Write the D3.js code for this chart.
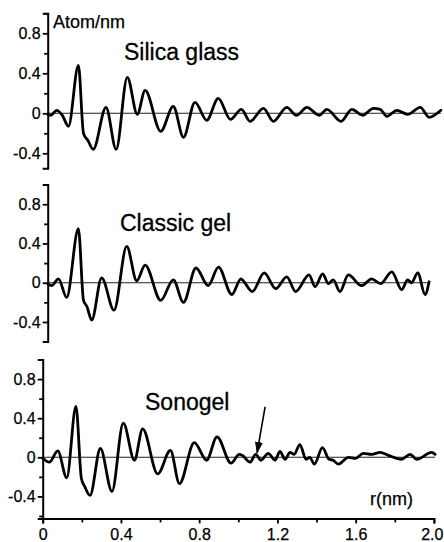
<!DOCTYPE html>
<html><head><meta charset="utf-8">
<script src="https://cdn.jsdelivr.net/npm/d3@7"></script>
<style>
body{margin:0;background:#fff}
svg{display:block}
text{font-family:"Liberation Sans",Arial,Helvetica,sans-serif;fill:#000}
</style>
</head><body>
<svg id="chart" width="444" height="542"></svg>
<script>
// ---------- data (r in nm, value in Atom/nm) ----------
const silicaGlass = [[0.0,-0.01],[0.015,-0.02],[0.046,0.03],[0.075,-0.02],[0.106,-0.13],[0.157,0.48],[0.183,-0.20],[0.205,-0.27],[0.233,-0.36],[0.298,0.06],[0.35,-0.36],[0.407,0.36],[0.458,-0.01],[0.498,0.23],[0.578,-0.18],[0.642,0.07],[0.694,-0.24],[0.753,0.11],[0.813,-0.07],[0.872,0.15],[0.934,-0.06],[0.99,0.04],[1.035,-0.08],[1.103,0.05],[1.154,-0.08],[1.222,0.06],[1.272,-0.02],[1.325,0.06],[1.388,-0.02],[1.427,0.04],[1.50,-0.08],[1.555,0.04],[1.61,-0.02],[1.665,0.05],[1.70,0.04],[1.734,-0.03],[1.785,0.03],[1.84,-0.01],[1.905,0.06],[1.95,-0.04],[2.01,0.03]];
const classicGel = [[0.0,-0.01],[0.02,-0.03],[0.055,0.04],[0.097,-0.15],[0.157,0.55],[0.183,-0.18],[0.20,-0.24],[0.225,-0.38],[0.276,0.05],[0.339,-0.28],[0.404,0.37],[0.455,0.02],[0.498,0.18],[0.578,-0.18],[0.642,0.03],[0.694,-0.20],[0.758,0.15],[0.821,-0.03],[0.873,0.16],[0.941,-0.12],[0.988,0.04],[1.00,0.02],[1.046,-0.09],[1.107,0.10],[1.166,-0.06],[1.222,0.06],[1.268,-0.09],[1.336,0.08],[1.367,-0.04],[1.406,0.09],[1.435,-0.01],[1.46,0.03],[1.494,-0.09],[1.537,0.08],[1.605,-0.03],[1.656,0.04],[1.702,-0.01],[1.759,0.11],[1.81,-0.07],[1.84,0.03],[1.86,0.0],[1.892,0.10],[1.929,-0.12],[1.95,0.01]];
const sonogel = [[0.0,-0.01],[0.034,-0.05],[0.077,0.065],[0.123,-0.21],[0.17,0.52],[0.198,-0.22],[0.215,-0.30],[0.242,-0.39],[0.295,0.09],[0.354,-0.35],[0.412,0.35],[0.469,-0.03],[0.511,0.29],[0.588,-0.17],[0.653,0.07],[0.699,-0.27],[0.775,0.15],[0.838,-0.03],[0.891,0.21],[0.963,-0.06],[1.005,0.03],[1.02,0.02],[1.06,-0.05],[1.089,0.03],[1.116,-0.03],[1.153,0.04],[1.188,-0.03],[1.213,0.06],[1.239,-0.02],[1.265,0.05],[1.285,0.03],[1.315,0.13],[1.346,-0.02],[1.365,0.0],[1.389,-0.07],[1.43,0.10],[1.464,-0.02],[1.485,-0.03],[1.511,-0.07],[1.563,0.0],[1.60,-0.01],[1.639,0.04],[1.682,0.03],[1.725,0.05],[1.767,0.02],[1.835,-0.02],[1.878,0.03],[1.912,-0.02],[1.989,0.05],[2.006,0.03]];
const seriesNames = ["Silica glass","Classic gel","Sonogel"];
const yTickValues = [-0.4,0,0.4,0.8];
const yTickLabels = ["-0.4","0","0.4","0.8"];
const yMinorTicks = [-0.6,-0.2,0.2,0.6,1.0];
const xTickValues = [0,0.4,0.8,1.2,1.6,2.0];
const xTickLabels = ["0","0.4","0.8","1.2","1.6","2.0"];
const xMinorTicks = [0.2,0.6,1.0,1.4,1.8];
const arrowFrom = [1.137,0.515];
const arrowTo = [1.096,0.045];
const yUnit = "Atom/nm";
const xUnit = "r(nm)";

// ---------- layout ----------
const layout = [
  {series: silicaGlass, yDomain:[-0.55,1.0], yRange:[168.3,13.3], xRange:[47.7,438.9], title:[124,60]},
  {series: classicGel,  yDomain:[-0.6,1.0],  yRange:[341.6,184.6], xRange:[47.7,438.9], title:[120,230.7]},
  {series: sonogel,     yDomain:[-0.625,1.0], yRange:[518.4,359.55], xRange:[42.7,433.9], title:[145,410]}
];

const svg = d3.select("#chart");
svg.append("rect").attr("width",444).attr("height",542).attr("fill","#fff");
svg.append("defs").append("marker")
  .attr("id","ah").attr("markerUnits","userSpaceOnUse")
  .attr("markerWidth",12).attr("markerHeight",8)
  .attr("refX",11).attr("refY",4).attr("orient","auto")
  .append("path").attr("d","M0,0L12,4L0,8Z").attr("fill","#000");

function styleAxis(g){
  g.selectAll("path.domain").attr("stroke","#000").attr("stroke-width",2).attr("fill","none");
  g.selectAll(".tick line").attr("stroke","#000").attr("stroke-width",1.8);
  g.selectAll(".tick text").attr("font-size",16).attr("fill","#000")
    .attr("stroke","#000").attr("stroke-width",0.25)
    .attr("font-family","'Liberation Sans',Arial,sans-serif");
}

layout.forEach((p,i)=>{
  const x = d3.scaleLinear().domain([0,2]).range(p.xRange);
  const y = d3.scaleLinear().domain(p.yDomain).range(p.yRange);
  const g = svg.append("g");

  // zero line
  const last = p.series[p.series.length-1][0];
  g.append("line")
    .attr("x1",x(0)).attr("x2",x(last))
    .attr("y1",y(0)).attr("y2",y(0))
    .attr("stroke","#222").attr("stroke-width",1.1);

  // minor y ticks
  const minor = yMinorTicks.filter(v=>v>=p.yDomain[0]-1e-9 && v<=p.yDomain[1]+1e-9);
  const gm = g.append("g").attr("transform",`translate(${x(0)},0)`)
    .call(d3.axisLeft(y).tickValues(minor).tickSize(3.5).tickSizeOuter(0).tickFormat(""));
  gm.select("path.domain").remove();
  styleAxis(gm);

  // major y axis
  const ga = g.append("g").attr("transform",`translate(${x(0)},0)`)
    .call(d3.axisLeft(y).tickValues(yTickValues).tickFormat((d,k)=>yTickLabels[k])
      .tickSize(5).tickSizeOuter(5).tickPadding(2));
  styleAxis(ga);

  // curve
  const line = d3.line().x(d=>x(d[0])).y(d=>y(d[1])).curve(d3.curveMonotoneX);
  g.append("path").datum(p.series).attr("d",line)
    .attr("fill","none").attr("stroke","#000").attr("stroke-width",2.8)
    .attr("stroke-linejoin","round").attr("stroke-linecap","round");

  // title
  g.append("text").attr("x",p.title[0]).attr("y",p.title[1])
    .attr("font-size",23).attr("stroke","#000").attr("stroke-width",0.3)
    .text(seriesNames[i]);

  if(i===0){
    g.append("text").attr("x",53).attr("y",28).attr("font-size",18)
      .attr("stroke","#000").attr("stroke-width",0.25).text(yUnit);
  }
  if(i===2){
    // x axis
    const gx = g.append("g").attr("transform",`translate(0,${y(p.yDomain[0])})`)
      .call(d3.axisBottom(x).tickValues(xMinorTicks).tickSize(4).tickSizeOuter(0).tickFormat(""));
    gx.select("path.domain").remove();
    styleAxis(gx);
    const gx2 = g.append("g").attr("transform",`translate(0,${y(p.yDomain[0])})`)
      .call(d3.axisBottom(x).tickValues(xTickValues).tickFormat((d,k)=>xTickLabels[k])
        .tickSize(5).tickSizeOuter(5).tickPadding(5));
    styleAxis(gx2);
    // keep the last label inside the picture
    gx2.selectAll(".tick text").filter((d,k,n)=>k===n.length-1)
      .attr("text-anchor","end").attr("dx",9);
    g.append("text").attr("x",370).attr("y",505).attr("font-size",18)
      .attr("stroke","#000").attr("stroke-width",0.25).text(xUnit);
    // arrow annotation
    g.append("line")
      .attr("x1",x(arrowFrom[0])).attr("y1",y(arrowFrom[1]))
      .attr("x2",x(arrowTo[0])).attr("y2",y(arrowTo[1]))
      .attr("stroke","#000").attr("stroke-width",1.6).attr("marker-end","url(#ah)");
  }
});
</script>
</body></html>
